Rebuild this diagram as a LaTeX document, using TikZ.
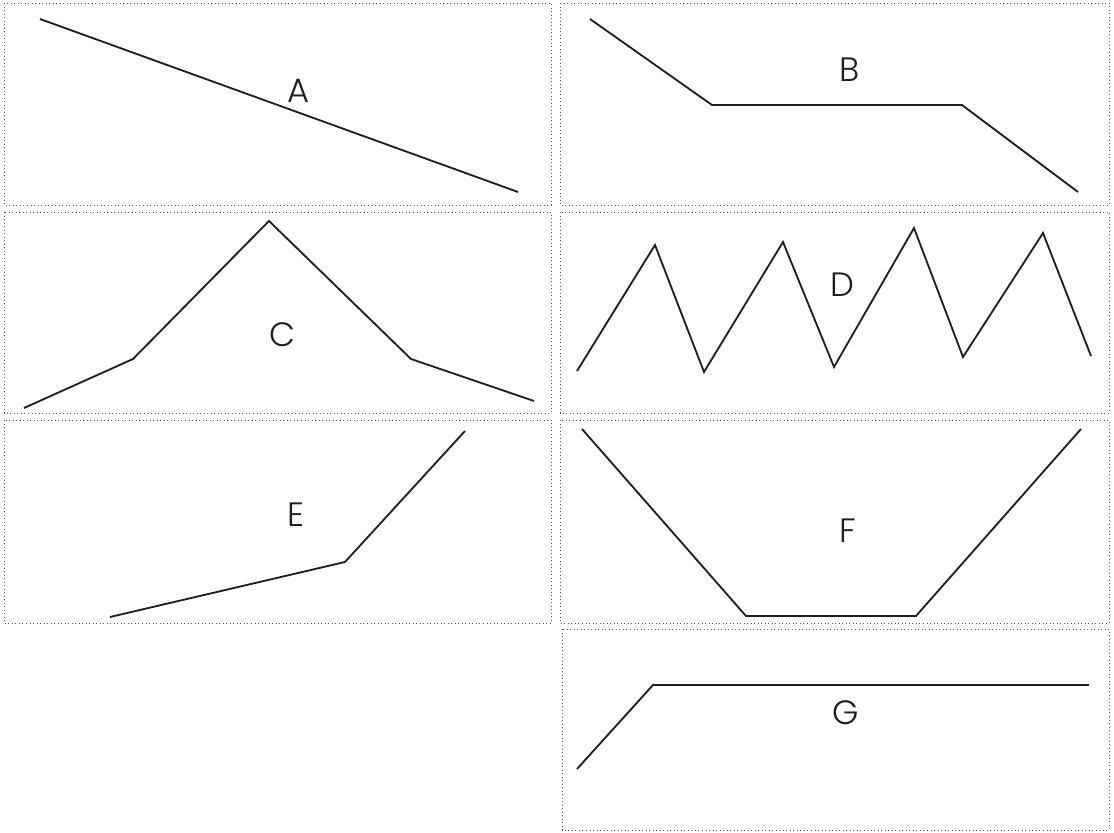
\documentclass[tikz,border=0pt]{standalone}
\usepackage{fontspec}
\IfFontExistsTF{Poppins Light}{\setmainfont{Poppins Light}}{\setmainfont{Poppins}}
\usetikzlibrary{positioning}
\definecolor{panelBorder}{HTML}{505050}
\definecolor{profileLine}{HTML}{1E1E1E}

\begin{document}
\begin{tikzpicture}[
        x=0.025cm, y=-0.025cm,
        panel/.style={
            draw=panelBorder,
            dotted,
            line width=0.5pt
        },
        profile/.style={
            draw=profileLine,
            line width=1.3pt,
            line join=miter
        },
        tag/.style={
            fill=white,
            inner sep=1pt,
            text=profileLine,
            font=\fontsize{24}{28}\selectfont
        }
    ]
    \useasboundingbox (0,0) rectangle (1114,833);

    % frames
    \draw[panel] (4,3) rectangle (551,205);
    \draw[panel] (560,3) rectangle (1109,205);
    \draw[panel] (4,212) rectangle (551,413);
    \draw[panel] (560,212) rectangle (1109,413);
    \draw[panel] (4,420) rectangle (551,623);
    \draw[panel] (560,420) rectangle (1109,623);
    \draw[panel] (562,629) rectangle (1109,830);

    % profiles
    \draw[profile] (40,19) -- (518,192);
    \draw[profile] (590,19) -- (712,105) -- (962,105) -- (1078,192);
    \draw[profile] (24,408) -- (133,359) -- (269,221) -- (411,359) -- (534,401);
    \draw[profile] (577,371) -- (655,245) -- (704,372) -- (783,242) -- (834,367)
        -- (914,228) -- (963,357) -- (1043,233) -- (1091,356);
    \draw[profile] (110,617) -- (345,562) -- (465,431);
    \draw[profile] (582,429) -- (746,616) -- (916,616) -- (1081,429);
    \draw[profile] (577,769) -- (653,685) -- (1089,685);

    % labels
    \node[tag] (tagA) at (299,91) {A};
    \node[tag] (tagB) at (850,70) {B};
    \node[tag] (tagC) at (283,335) {C};
    \node[tag] (tagD) at (842,285) {D};
    \node[tag] (tagE) at (296,515) {E};
    \node[tag] (tagF) at (848,531) {F};
    \node[tag] (tagG) at (846,713) {G};

\end{tikzpicture}
\end{document}
